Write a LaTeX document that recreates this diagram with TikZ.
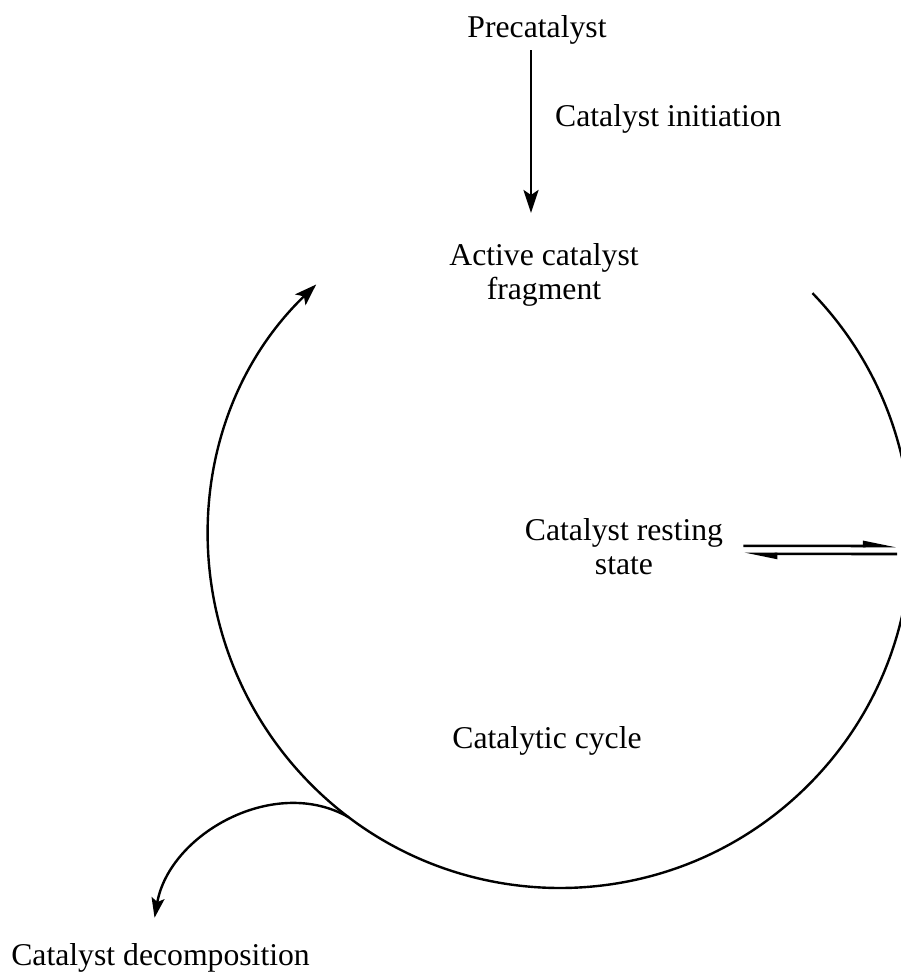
\documentclass[tikz,border=0pt]{standalone}
\usepackage{fontspec}
\setmainfont{Liberation Serif}
\usetikzlibrary{arrows.meta}

\begin{document}
\begin{tikzpicture}[x=1pt, y=1pt,
  lbl/.style={inner sep=0pt, font=\fontsize{31.7}{34}\selectfont},
  arr/.style={line width=2.6pt, -{Stealth[length=23pt, width=15pt, inset=5pt]}},
  harp/.style={line width=2.6pt, -{Stealth[harpoon, length=27pt, width=10pt, inset=0pt]}}]
  \useasboundingbox (0,0) rectangle (901,974);
  \clip (0,0) rectangle (901,974);
  \coordinate (ctr) at (560,437);
  \coordinate (initx) at (531,0);
  \coordinate (cyc-e) at (897,424);
  \node[lbl, anchor=base] (prec) at (537,936) {Precatalyst};
  \node[lbl, anchor=base west] (init) at (555,847) {Catalyst initiation};
  \node[lbl, anchor=north, align=center] (act) at (544,730.5) {Active catalyst\\fragment};
  \node[lbl, anchor=north, align=center] (rest) at (624,455.5) {Catalyst resting\\state};
  \node[lbl, anchor=base] (cycle) at (547,225) {Catalytic cycle};
  \node[lbl, anchor=base east] (decomp) at (310,9) {Catalyst decomposition};
  % initiation
  \draw[arr, shorten <=5pt, shorten >=30.5pt] (prec.south -| initx) -- (act.north -| initx);
  % catalytic cycle
  \draw[line width=2.4pt, -{Stealth[length=22pt, width=15pt, inset=5pt]}]
    ([shift={(44:351)}]ctr) arc[start angle=44, end angle=-226, radius=351];
  % resting state equilibrium
  \draw[harp] ([xshift=20pt, yshift=1pt]rest.east) -- ([yshift=4pt]cyc-e);
  \draw[harp] ([yshift=-4pt]cyc-e) -- ([xshift=20pt, yshift=-7pt]rest.east);
  % decomposition
  \draw[line width=2.4pt, -{Stealth[length=20pt, width=13pt, inset=4pt]}]
    ([shift={(233:351)}]ctr) to[out=150, in=80] ([shift={(-6,25)}]decomp.north);
\end{tikzpicture}
\end{document}
